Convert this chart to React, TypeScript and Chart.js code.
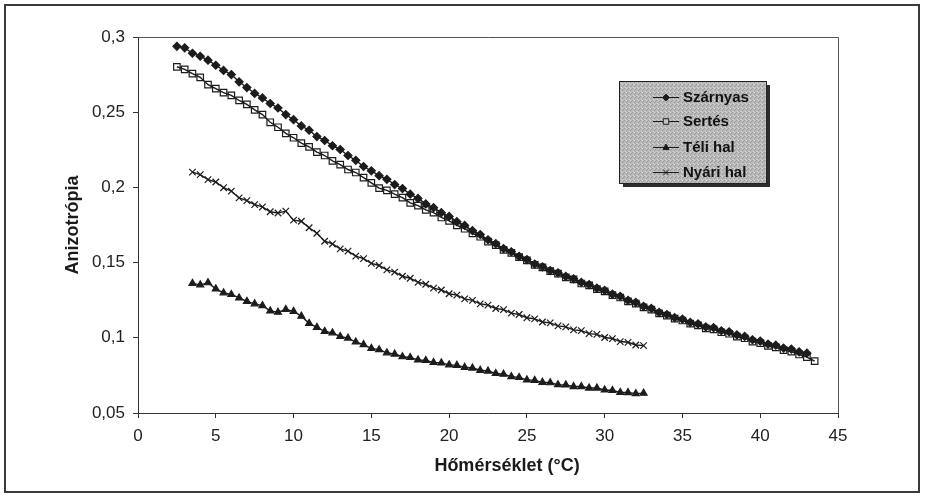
import React, { useEffect, useRef } from 'react';
import { Chart, registerables } from 'chart.js';

Chart.register(...registerables);

const seriesNames = ['Szárnyas', 'Sertés', 'Téli hal', 'Nyári hal'];
const xAxisTitle = 'Hőmérséklet (°C)';
const yAxisTitle = 'Anizotrópia';
const xTickLabels = ['0', '5', '10', '15', '20', '25', '30', '35', '40', '45'];
const yTickLabels = ['0,05', '0,1', '0,15', '0,2', '0,25', '0,3'];

const tempSzarnyas = [
  2.5, 3, 3.5, 4, 4.5, 5, 5.5, 6, 6.5, 7, 7.5, 8, 8.5, 9, 9.5, 10, 10.5, 11, 11.5, 12,
  12.5, 13, 13.5, 14, 14.5, 15, 15.5, 16, 16.5, 17, 17.5, 18, 18.5, 19, 19.5, 20, 20.5, 21,
  21.5, 22, 22.5, 23, 23.5, 24, 24.5, 25, 25.5, 26, 26.5, 27, 27.5, 28, 28.5, 29, 29.5, 30,
  30.5, 31, 31.5, 32, 32.5, 33, 33.5, 34, 34.5, 35, 35.5, 36, 36.5, 37, 37.5, 38, 38.5, 39,
  39.5, 40, 40.5, 41, 41.5, 42, 42.5, 43,
];
const szarnyas = [
  0.2938, 0.2928, 0.2892, 0.2872, 0.2846, 0.2812, 0.2778, 0.275, 0.2702, 0.2664, 0.2625, 0.2595,
  0.2558, 0.2528, 0.2484, 0.245, 0.2409, 0.238, 0.2338, 0.2312, 0.2277, 0.2252, 0.2212, 0.218,
  0.2139, 0.211, 0.2078, 0.2054, 0.2019, 0.1992, 0.1955, 0.1927, 0.189, 0.1865, 0.1832, 0.1807,
  0.1772, 0.1747, 0.1712, 0.1687, 0.1652, 0.1626, 0.1593, 0.1572, 0.1542, 0.152, 0.149, 0.1472,
  0.1447, 0.1432, 0.1408, 0.1392, 0.1368, 0.1354, 0.133, 0.1315, 0.129, 0.1276, 0.1249, 0.1235,
  0.1209, 0.1195, 0.1169, 0.1155, 0.1134, 0.1124, 0.1102, 0.1092, 0.1072, 0.1067, 0.1047, 0.104,
  0.1019, 0.1009, 0.0987, 0.0978, 0.0958, 0.0951, 0.0932, 0.0925, 0.0907, 0.0898,
];

const tempSertes = [
  2.5, 3, 3.5, 4, 4.5, 5, 5.5, 6, 6.5, 7, 7.5, 8, 8.5, 9, 9.5, 10, 10.5, 11, 11.5, 12,
  12.5, 13, 13.5, 14, 14.5, 15, 15.5, 16, 16.5, 17, 17.5, 18, 18.5, 19, 19.5, 20, 20.5, 21,
  21.5, 22, 22.5, 23, 23.5, 24, 24.5, 25, 25.5, 26, 26.5, 27, 27.5, 28, 28.5, 29, 29.5, 30,
  30.5, 31, 31.5, 32, 32.5, 33, 33.5, 34, 34.5, 35, 35.5, 36, 36.5, 37, 37.5, 38, 38.5, 39,
  39.5, 40, 40.5, 41, 41.5, 42, 42.5, 43, 43.5,
];
const sertes = [
  0.2802, 0.2785, 0.2756, 0.2732, 0.2683, 0.2657, 0.263, 0.2612, 0.2578, 0.2552, 0.2515, 0.2484,
  0.2433, 0.24, 0.2359, 0.233, 0.2295, 0.227, 0.2235, 0.2212, 0.2177, 0.2152, 0.2119, 0.2099,
  0.2065, 0.203, 0.1995, 0.198, 0.1955, 0.1932, 0.1897, 0.1879, 0.185, 0.1832, 0.18, 0.1778,
  0.1747, 0.1725, 0.1694, 0.1672, 0.164, 0.1616, 0.1585, 0.1565, 0.1537, 0.1515, 0.1485, 0.1468,
  0.1443, 0.1427, 0.1402, 0.1388, 0.1361, 0.1348, 0.1324, 0.1309, 0.1284, 0.1268, 0.1242, 0.1227,
  0.1202, 0.1188, 0.1163, 0.1148, 0.1127, 0.1115, 0.1094, 0.1082, 0.1063, 0.1056, 0.1037, 0.1027,
  0.1008, 0.0997, 0.0975, 0.0965, 0.0946, 0.0937, 0.0918, 0.0908, 0.0889, 0.0872, 0.0845,
];

const tempFish = [
  3.5, 4, 4.5, 5, 5.5, 6, 6.5, 7, 7.5, 8, 8.5, 9, 9.5, 10, 10.5, 11, 11.5, 12, 12.5, 13,
  13.5, 14, 14.5, 15, 15.5, 16, 16.5, 17, 17.5, 18, 18.5, 19, 19.5, 20, 20.5, 21, 21.5, 22,
  22.5, 23, 23.5, 24, 24.5, 25, 25.5, 26, 26.5, 27, 27.5, 28, 28.5, 29, 29.5, 30, 30.5, 31,
  31.5, 32, 32.5,
];
const teliHal = [
  0.1362, 0.1352, 0.1366, 0.1325, 0.1299, 0.1288, 0.1265, 0.1242, 0.1226, 0.1214, 0.1179, 0.117,
  0.1188, 0.1176, 0.1144, 0.1096, 0.1069, 0.1043, 0.1033, 0.1009, 0.0998, 0.0972, 0.0955, 0.093,
  0.0921, 0.09, 0.0892, 0.0874, 0.0869, 0.0853, 0.0849, 0.0836, 0.0833, 0.082, 0.0817, 0.0804,
  0.0799, 0.0784, 0.0779, 0.0763, 0.0758, 0.0742, 0.0736, 0.072, 0.0717, 0.0704, 0.0701, 0.0688,
  0.0687, 0.0676, 0.0676, 0.0666, 0.0666, 0.0653, 0.065, 0.0637, 0.0636, 0.0629, 0.0632,
];
const nyariHal = [
  0.2102, 0.2085, 0.2052, 0.2036, 0.1998, 0.1975, 0.193, 0.1912, 0.1885, 0.187, 0.1838, 0.183,
  0.1842, 0.1782, 0.1775, 0.1732, 0.1695, 0.1642, 0.1624, 0.1591, 0.1576, 0.1543, 0.1526, 0.1495,
  0.1481, 0.1452, 0.1437, 0.1409, 0.1396, 0.1369, 0.1356, 0.133, 0.1318, 0.1293, 0.1284, 0.1259,
  0.1249, 0.1226, 0.1217, 0.1195, 0.1187, 0.1164, 0.1155, 0.1133, 0.1126, 0.1105, 0.1099, 0.1079,
  0.1073, 0.1053, 0.1048, 0.1028, 0.1023, 0.1002, 0.0995, 0.0975, 0.097, 0.0952, 0.0948,
];

const FONT = '"Liberation Sans", Arial, Helvetica, sans-serif';
const INK = '#1c1c1c';

type Style = { point: string; radius: number; fill: string };
const styles: Style[] = [
  { point: 'rectRot', radius: 4, fill: INK },
  { point: 'rect', radius: 4.6, fill: 'rgba(0,0,0,0)' },
  { point: 'triangle', radius: 4, fill: INK },
  { point: 'crossRot', radius: 4.6, fill: INK },
];

function toPoints(xs: number[], ys: number[]) {
  return xs.map((x, i) => ({ x, y: ys[i] }));
}

function drawMarker(ctx: CanvasRenderingContext2D, style: Style, x: number, y: number) {
  const r = style.radius * 0.85;
  ctx.beginPath();
  if (style.point === 'rectRot') {
    ctx.moveTo(x, y - r);
    ctx.lineTo(x + r, y);
    ctx.lineTo(x, y + r);
    ctx.lineTo(x - r, y);
    ctx.closePath();
    ctx.fillStyle = style.fill;
    ctx.fill();
    ctx.stroke();
  } else if (style.point === 'rect') {
    const s = r * Math.SQRT1_2;
    ctx.rect(x - s, y - s, 2 * s, 2 * s);
    ctx.fillStyle = '#c4c4c4';
    ctx.fill();
    ctx.stroke();
  } else if (style.point === 'triangle') {
    ctx.moveTo(x, y - r);
    ctx.lineTo(x + r * 0.9, y + r * 0.6);
    ctx.lineTo(x - r * 0.9, y + r * 0.6);
    ctx.closePath();
    ctx.fillStyle = style.fill;
    ctx.fill();
    ctx.stroke();
  } else {
    const s = r * Math.SQRT1_2;
    ctx.moveTo(x - s, y - s);
    ctx.lineTo(x + s, y + s);
    ctx.moveTo(x + s, y - s);
    ctx.lineTo(x - s, y + s);
    ctx.stroke();
  }
}

function stipple(ctx: CanvasRenderingContext2D) {
  const c = document.createElement('canvas');
  c.width = 4;
  c.height = 4;
  const p = c.getContext('2d')!;
  p.fillStyle = '#bababa';
  p.fillRect(0, 0, 4, 4);
  p.fillStyle = '#9a9a9a';
  p.fillRect(0, 0, 1, 1);
  p.fillRect(2, 2, 1, 1);
  p.fillRect(3, 1, 1, 1);
  p.fillStyle = '#d4d4d4';
  p.fillRect(1, 3, 1, 1);
  p.fillRect(2, 0, 1, 1);
  return ctx.createPattern(c, 'repeat') || '#bababa';
}

const framePlugin = {
  id: 'frame',
  beforeDraw(chart: any) {
    const { ctx, width, height } = chart;
    ctx.save();
    ctx.fillStyle = '#ffffff';
    ctx.fillRect(0, 0, width, height);
    ctx.strokeStyle = '#3a3a3a';
    ctx.lineWidth = 2;
    ctx.strokeRect(5, 5, 914, 487);
    ctx.restore();
  },
  afterDraw(chart: any) {
    const { ctx, chartArea } = chart;
    ctx.save();
    ctx.strokeStyle = '#555';
    ctx.lineWidth = 1;
    ctx.beginPath();
    ctx.moveTo(chartArea.left, chartArea.top + 0.5);
    ctx.lineTo(chartArea.right + 0.5, chartArea.top + 0.5);
    ctx.lineTo(chartArea.right + 0.5, chartArea.bottom);
    ctx.stroke();

    // x axis title (placed slightly right of the plot centre, as in the source)
    ctx.font = `bold 18px ${FONT}`;
    ctx.fillStyle = '#1a1a1a';
    ctx.textAlign = 'center';
    ctx.textBaseline = 'middle';
    ctx.fillText(xAxisTitle, 507, 466);

    // legend box
    const bx = 619, by = 81, bw = 147, bh = 102;
    ctx.fillStyle = '#2c2c2c';
    ctx.fillRect(bx + 4, by + 4, bw, bh);
    ctx.fillStyle = stipple(ctx);
    ctx.fillRect(bx, by, bw, bh);
    ctx.strokeStyle = '#222';
    ctx.strokeRect(bx + 0.5, by + 0.5, bw, bh);

    const rows = [97, 121, 147, 172];
    ctx.font = `bold 15px ${FONT}`;
    ctx.textBaseline = 'middle';
    ctx.textAlign = 'left';
    chart.data.datasets.forEach((ds: any, i: number) => {
      const y = rows[i];
      ctx.strokeStyle = INK;
      ctx.lineWidth = 1;
      ctx.beginPath();
      ctx.moveTo(653, y + 0.5);
      ctx.lineTo(679, y + 0.5);
      ctx.stroke();
      drawMarker(ctx, styles[i], 666, y + 0.5);
      ctx.fillStyle = '#111';
      ctx.fillText(ds.label, 683, y + 1);
    });
    ctx.restore();
  },
};

export default function App() {
  const ref = useRef<HTMLCanvasElement>(null);

  useEffect(() => {
    if (!ref.current) return;
    const seriesData = [
      toPoints(tempSzarnyas, szarnyas),
      toPoints(tempSertes, sertes),
      toPoints(tempFish, teliHal),
      toPoints(tempFish, nyariHal),
    ];
    const chart = new Chart(ref.current, {
      type: 'line',
      data: {
        datasets: seriesNames.map((name, i) => ({
          label: name,
          data: seriesData[i],
          borderColor: INK,
          borderWidth: 1.4,
          pointStyle: styles[i].point as any,
          pointRadius: styles[i].radius,
          pointBackgroundColor: styles[i].fill,
          pointBorderColor: INK,
          pointBorderWidth: 1.2,
          fill: false,
          tension: 0,
        })),
      },
      options: {
        responsive: false,
        animation: false,
        devicePixelRatio: 1,
        layout: { padding: { left: 0, right: 88, top: 37, bottom: 0 } },
        plugins: {
          legend: { display: false },
          tooltip: { enabled: false },
        },
        scales: {
          x: {
            type: 'linear',
            min: 0,
            max: 45,
            afterFit: (s: any) => {
              s.height = 86;
            },
            ticks: {
              stepSize: 5,
              color: '#222',
              font: { family: FONT, size: 17 },
              padding: 8,
              maxRotation: 0,
              callback: (_v: any, i: number) => xTickLabels[i],
            },
            grid: { drawOnChartArea: false, drawTicks: true, tickLength: 5, color: '#333' },
            border: { display: true, color: '#333', width: 1 },
            title: { display: false },
          },
          y: {
            type: 'linear',
            min: 0.05,
            max: 0.3,
            afterFit: (s: any) => {
              s.width = 138;
            },
            ticks: {
              stepSize: 0.05,
              color: '#222',
              font: { family: FONT, size: 17 },
              padding: 8,
              callback: (_v: any, i: number) => yTickLabels[i],
            },
            grid: { drawOnChartArea: false, drawTicks: true, tickLength: 5, color: '#333' },
            border: { display: true, color: '#333', width: 1 },
            title: {
              display: true,
              text: yAxisTitle,
              color: '#1a1a1a',
              font: { family: FONT, size: 18, weight: 'bold' },
              padding: { top: 62, bottom: 0 },
            },
          },
        },
      },
      plugins: [framePlugin],
    });
    return () => chart.destroy();
  }, []);

  return (
    <div style={{ position: 'absolute', left: 0, top: 0, width: 926, height: 499, background: '#fff' }}>
      <canvas ref={ref} width={926} height={499} style={{ display: 'block', width: 926, height: 499 }} />
    </div>
  );
}
